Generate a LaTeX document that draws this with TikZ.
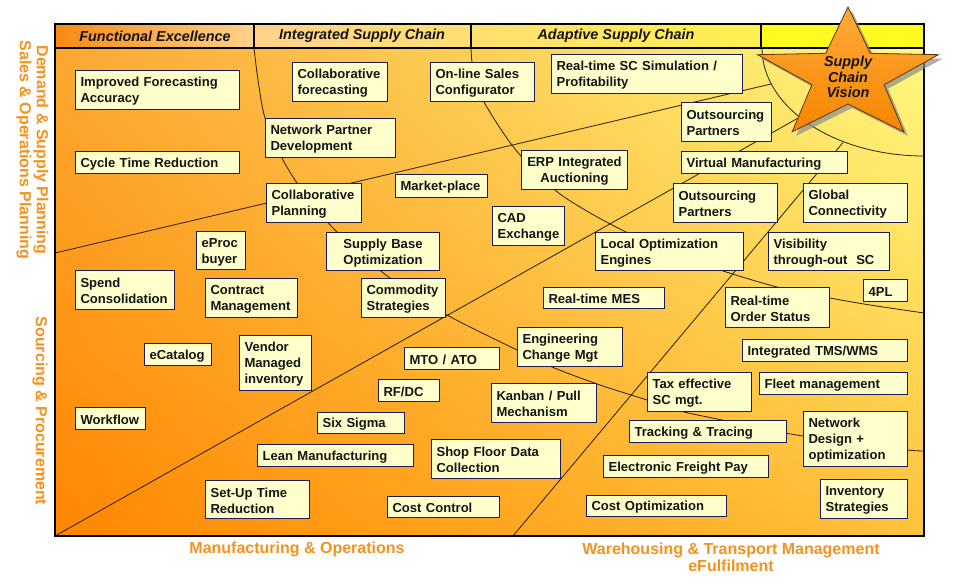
\documentclass[tikz,border=0pt]{standalone}
\usepackage{fontspec}
\setmainfont{Liberation Sans}
\usetikzlibrary{shadings}
\definecolor{boxfill}{HTML}{FFFFCC}
\definecolor{boxline}{HTML}{1C1C50}
\definecolor{lbl}{HTML}{F4921E}
\definecolor{linec}{HTML}{2A1E0A}
\definecolor{txt}{HTML}{141414}
\definecolor{bgUL}{HTML}{FBA832}
\definecolor{bgUR}{HTML}{FFFA80}
\definecolor{bgLL}{HTML}{FF8600}
\definecolor{bgLR}{HTML}{FFC23C}
\definecolor{hA}{HTML}{F68A14}
\definecolor{hB}{HTML}{FFD38C}
\definecolor{hC}{HTML}{FFF050}
\definecolor{hY}{HTML}{FFFA20}
\definecolor{starTop}{HTML}{FFAA3A}
\definecolor{starBot}{HTML}{F58600}
\definecolor{starLine}{HTML}{5A3608}
\newcommand\bx[7][]{%
  \pgfmathsetmacro\bxw{(#5-#3)*0.75}%
  \pgfmathsetmacro\bxh{(#6-#4)*0.75}%
  \pgfmathsetmacro\bxt{\bxw-7.6}%
  \node[box,#1,minimum width=\bxw pt,minimum height=\bxh pt,text width=\bxt pt] (#2) at (#3,#4) {\rule{0pt}{9pt}#7};}
\begin{document}
\begin{tikzpicture}[x=0.75pt,y=-0.75pt,
  box/.style={draw=boxline,fill=boxfill,line width=0.7pt,inner xsep=3.8pt,inner ysep=0pt,
    anchor=north west,align=left,text=txt,font=\bfseries\fontsize{9.8}{12}\selectfont},
  thinline/.style={draw=linec,line width=0.6pt},
  frameline/.style={draw=black,line width=0.8pt},
  hdrtext/.style={font=\bfseries\itshape\fontsize{10.8}{13}\selectfont,text=txt},
  axislabel/.style={font=\bfseries\fontsize{12}{12.8}\selectfont,text=lbl,align=center}]
\useasboundingbox (0,0) rectangle (960,588);
\fill[white] (0,0) rectangle (960,588);
% background
\shade[shading=bilinear interpolation,upper left=bgUL,upper right=bgUR,lower left=bgLL,lower right=bgLR] (55,48) rectangle (924,536);
% header
\shade[left color=hA,right color=hB] (55,24) rectangle (254,48);
\shade[left color=hB,right color=hC] (254,24) rectangle (761,48);
\fill[hY] (761,24) rectangle (924,48);
\node[hdrtext] (h1) at (155,36) {Functional Excellence};
\node[hdrtext] (h2) at (362,36) {Integrated Supply Chain};
\node[hdrtext] (h3) at (616,36) {Adaptive Supply Chain};
% region lines
\coordinate (l1a) at (55,536);
\coordinate (l1b) at (800,117);
\coordinate (l2a) at (55,253);
\coordinate (l2b) at (771,84);
\coordinate (l3a) at (513,536);
\coordinate (l3b) at (843,142.5);
\begin{scope}
\clip (55,48) rectangle (924,536);
\draw[thinline] (l1a) -- (l1b);
\draw[thinline] (l2a) -- (l2b);
\draw[thinline] (l3a) -- (l3b);
\draw[thinline] plot[smooth] coordinates {(254,48) (258,80) (265,118) (282,158) (297,183) (315,208) (337,232) (360,253) (390,278) (447,315) (517,350) (552,367) (600,385) (647,400) (680,411) (722,420) (785,433) (850,443) (908,450) (924,451)};
\draw[thinline] plot[smooth] coordinates {(471,48) (472,62) (476,80) (483,100) (500,128) (520,155) (555,190) (585,210) (622,230) (670,252) (720,270) (777,287) (830,298) (870,305) (924,313)};
\draw[thinline] plot[domain=180:90,samples=40] ({924+162*cos(\x)},{48+108*sin(\x)});
\end{scope}
% frame
\draw[frameline] (55,24) rectangle (924,536);
\draw[frameline] (55,48) -- (924,48);
\draw[frameline] (254,24) -- (254,48);
\draw[frameline] (471,24) -- (471,48);
\draw[frameline] (761,24) -- (761,48);
% boxes
\bx{ifa}{75}{70}{239}{109}{Improved Forecasting\\Accuracy}
\bx{ctr}{75}{151}{239}{173}{Cycle Time Reduction}
\bx{cfc}{292}{62}{387}{101}{Collaborative\\forecasting}
\bx{npd}{265}{118}{395}{157}{Network Partner\\Development}
\bx{osc}{430}{62}{534}{101}{On-line Sales\\Configurator}
\bx{cpl}{266}{183}{361}{222}{Collaborative\\Planning}
\bx{mkt}{395}{174}{487}{197}{Market-place}
\bx{rts}{551}{54}{742}{93}{Real-time SC Simulation /\\Profitability}
\bx{opa}{681}{102}{771}{141}{Outsourcing\\Partners}
\bx{vm}{681}{151}{847}{173}{Virtual Manufacturing}
\bx[align=center]{erp}{521}{150}{627}{189}{ERP Integrated\\Auctioning}
\bx{opb}{673}{183}{777}{222}{Outsourcing\\Partners}
\bx{gc}{803}{183}{907}{222}{Global\\Connectivity}
\bx{cad}{492}{206}{564}{245}{CAD\\Exchange}
\bx{loe}{595}{232}{743}{270}{Local Optimization\\Engines}
\bx{vis}{768}{232}{889}{270}{Visibility\\through-out\ \ SC}
\bx{fpl}{863}{279}{907}{301}{4PL}
\bx{mes}{543}{287}{664}{308}{Real-time MES}
\bx{ros}{725}{287}{829}{327}{Real-time\\Order Status}
\bx{tms}{742}{339}{907}{361}{Integrated TMS/WMS}
\bx{ecm}{517}{327}{622}{366}{Engineering\\Change Mgt}
\bx{flt}{759}{372}{907}{394}{Fleet management}
\bx{tax}{647}{372}{751}{411}{Tax effective\\SC mgt.}
\bx{kan}{491}{383}{596}{422}{Kanban / Pull\\Mechanism}
\bx{trk}{629}{420}{786}{442}{Tracking \& Tracing}
\bx{nd}{803}{411}{907}{466}{Network\\Design +\\optimization}
\bx{efp}{603}{455}{768}{477}{Electronic Freight Pay}
\bx{inv}{820}{479}{907}{518}{Inventory\\Strategies}
\bx{cop}{586}{495}{726}{516}{Cost Optimization}
\bx{sfd}{431}{439}{560}{478}{Shop Floor Data\\Collection}
\bx{cc}{387}{496}{499}{517}{Cost Control}
\bx{mto}{404}{347}{499}{369}{MTO / ATO}
\bx{rf}{378}{379}{439}{401}{RF/DC}
\bx{six}{317}{412}{404}{433}{Six Sigma}
\bx{lean}{257}{444}{413}{466}{Lean Manufacturing}
\bx{setup}{205}{480}{309}{518}{Set-Up Time\\Reduction}
\bx{wf}{75}{407}{145}{429}{Workflow}
\bx{ecat}{144}{343}{211}{365}{eCatalog}
\bx{vmi}{239}{335}{311}{390}{Vendor\\Managed\\inventory}
\bx{spend}{75}{270}{174}{309}{Spend\\Consolidation}
\bx{eproc}{196}{231}{245}{269}{eProc\\buyer}
\bx{cm}{205}{278}{297}{317}{Contract\\Management}
\bx[align=center]{sbo}{326}{232}{439}{270}{Supply Base\\Optimization}
\bx{com}{361}{278}{445}{317}{Commodity\\Strategies}
% star shadow
\fill[black!45,opacity=0.7,shift={(4,4)}] (848,7) -- (870.3,53.3) -- (938.4,54.7) -- (884.1,84.7) -- (903.8,131.8) -- (848,104) -- (792.2,131.8) -- (811.9,84.7) -- (757.6,54.7) -- (825.7,53.3) -- cycle;
% star
\shade[top color=starTop,bottom color=starBot] (848,7) -- (870.3,53.3) -- (938.4,54.7) -- (884.1,84.7) -- (903.8,131.8) -- (848,104) -- (792.2,131.8) -- (811.9,84.7) -- (757.6,54.7) -- (825.7,53.3) -- cycle;
\draw[starLine,line width=0.6pt,line join=miter] (848,7) -- (870.3,53.3) -- (938.4,54.7) -- (884.1,84.7) -- (903.8,131.8) -- (848,104) -- (792.2,131.8) -- (811.9,84.7) -- (757.6,54.7) -- (825.7,53.3) -- cycle;
\node[hdrtext,align=center,font=\bfseries\itshape\fontsize{10.8}{11.4}\selectfont] (vision) at (848,77) {Supply\\Chain\\Vision};
% axis labels
\node[axislabel,rotate=-90] (dsp) at (32.5,150) {Demand \& Supply Planning\\Sales \& Operations Planning};
\node[axislabel,rotate=-90] (sp) at (40,411) {Sourcing \& Procurement};
\node[axislabel] (mo) at (297,549) {Manufacturing \& Operations};
\node[axislabel] (wt) at (731,557.5) {Warehousing \& Transport Management\\eFulfilment};
\end{tikzpicture}
\end{document}
